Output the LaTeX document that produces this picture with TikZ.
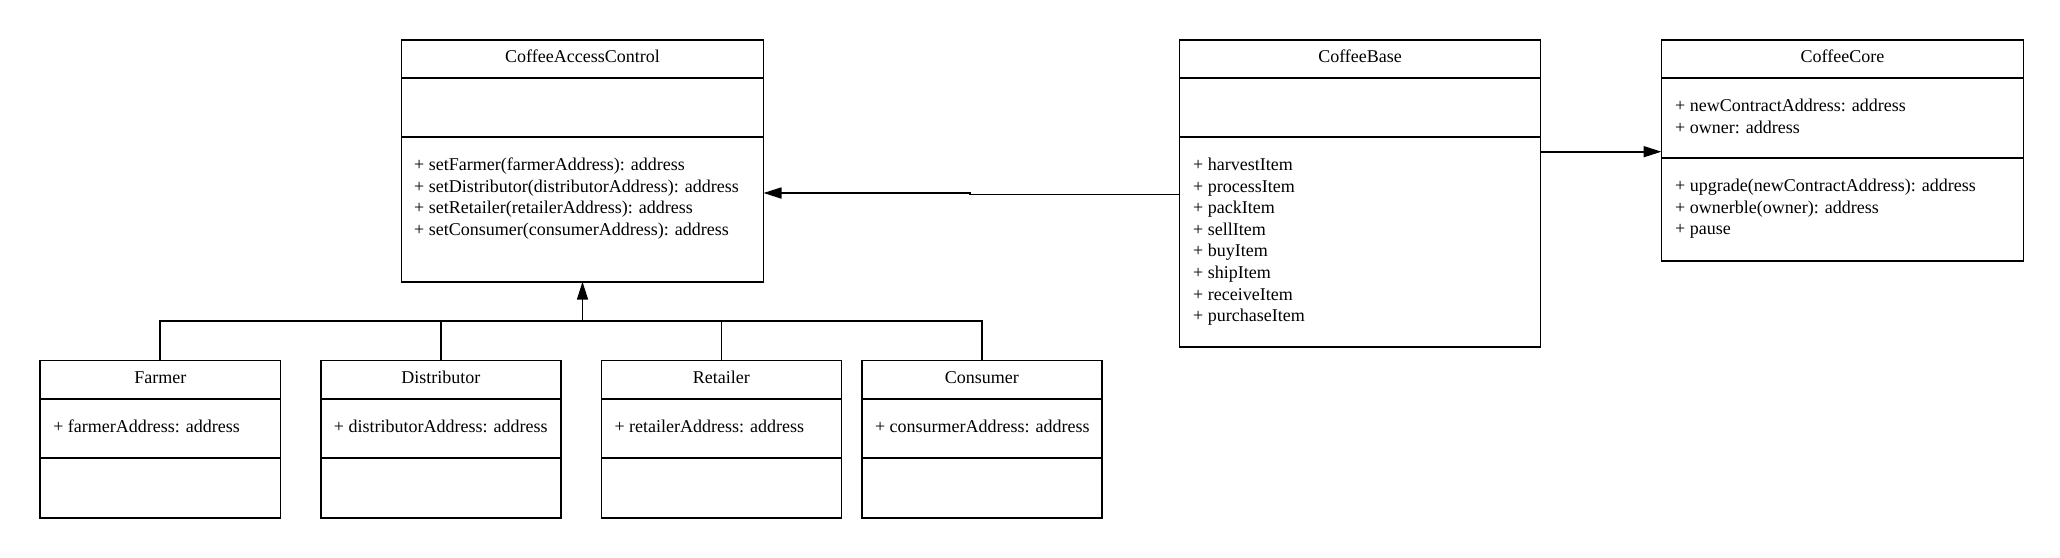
\documentclass[tikz,border=0pt]{standalone}
\usepackage{fontspec}
\setmainfont{Liberation Serif}
\usetikzlibrary{arrows.meta}
\begin{document}
\begin{tikzpicture}[x=1pt,y=-1pt,
  classbox/.style={draw, line width=1.6pt, inner sep=0pt, outer sep=0pt, anchor=north west},
  divider/.style={line width=1.6pt},
  txt/.style={font=\fontsize{18}{21.6}\selectfont, inner sep=0pt, text height=12.6pt, text depth=4pt, anchor=west},
  ttl/.style={font=\fontsize{18}{21.6}\selectfont, inner sep=0pt, text height=12.6pt, text depth=4pt, anchor=center},
  conn/.style={line width=1.7pt},
  tip/.style={-{Triangle[length=18pt,width=11pt]}}
]
\fill[white] (0,0) rectangle (2060,557);
\useasboundingbox (0,0) rectangle (2060,557);

% ---------- CoffeeAccessControl ----------
\node[classbox, minimum width=362pt, minimum height=242pt] (cac) at (401.5,39.7) {};
\draw[divider] (cac.west |- 0,78) -- (cac.east |- 0,78);
\draw[divider] (cac.west |- 0,136.7) -- (cac.east |- 0,136.7);
\node[ttl] (cac-t) at (cac.north |- 0,58.6) {CoffeeAccessControl};
\foreach [count=\i] \t in {{+ setFarmer(farmerAddress): address},
  {+ setDistributor(distributorAddress): address},
  {+ setRetailer(retailerAddress): address},
  {+ setConsumer(consumerAddress): address}}
  \node[txt] (cac-m\i) at (414,{166.4+21.55*(\i-1)}) {\t};

% ---------- CoffeeBase ----------
\node[classbox, minimum width=361pt, minimum height=307pt] (cb) at (1179.6,39.7) {};
\draw[divider] (cb.west |- 0,78) -- (cb.east |- 0,78);
\draw[divider] (cb.west |- 0,136.7) -- (cb.east |- 0,136.7);
\node[ttl] (cb-t) at (cb.north |- 0,58.6) {CoffeeBase};
\foreach [count=\i] \t in {{+ harvestItem},{+ processItem},{+ packItem},{+ sellItem},
  {+ buyItem},{+ shipItem},{+ receiveItem},{+ purchaseItem}}
  \node[txt] (cb-m\i) at (1193,{166.4+21.57*(\i-1)}) {\t};

% ---------- CoffeeCore ----------
\node[classbox, minimum width=362pt, minimum height=221.3pt] (core) at (1661.5,39.7) {};
\draw[divider] (core.west |- 0,78) -- (core.east |- 0,78);
\draw[divider] (core.west |- 0,157.7) -- (core.east |- 0,157.7);
\node[ttl] (core-t) at (core.north |- 0,58.6) {CoffeeCore};
\node[txt] (core-a1) at (1675,107.4) {+ newContractAddress: address};
\node[txt] (core-a2) at (1675,128.8) {+ owner: address};
\node[txt] (core-m1) at (1675,187.4) {+ upgrade(newContractAddress): address};
\node[txt] (core-m2) at (1675,209) {+ ownerble(owner): address};
\node[txt] (core-m3) at (1675,230.6) {+ pause};

% ---------- bottom classes ----------
\foreach \n/\x/\title/\attr in {
  farmer/40.1/Farmer/{+ farmerAddress: address},
  dist/320.7/Distributor/{+ distributorAddress: address},
  ret/601.3/Retailer/{+ retailerAddress: address},
  cons/861.8/Consumer/{+ consurmerAddress: address}}{
  \node[classbox, minimum width=240.3pt, minimum height=157.7pt] (\n) at (\x,360.3) {};
  \draw[divider] (\n.west |- 0,398.7) -- (\n.east |- 0,398.7);
  \draw[divider] (\n.west |- 0,457.7) -- (\n.east |- 0,457.7);
  \node[ttl] (\n-t) at (\n.north |- 0,379.3) {\title};
  \node[txt] (\n-a) at ({\x+13},427.7) {\attr};
}

% ---------- connectors ----------
\draw[conn,tip] (cb.west |- 0,194.5) -- (970,194.5) -- (970,193) -- (cac.east |- 0,193);
\draw[conn,tip] (cb.east |- 0,151.7) -- (core.west |- 0,151.7);

\coordinate (bus) at (0,321.2);
\draw[conn] (farmer.north) |- (cons.north |- bus) -- (cons.north);
\draw[conn] (dist.north) -- (dist.north |- bus);
\draw[conn] (ret.north) -- (ret.north |- bus);
\draw[conn,tip] (cac.south |- bus) -- (cac.south);
\end{tikzpicture}
\end{document}
